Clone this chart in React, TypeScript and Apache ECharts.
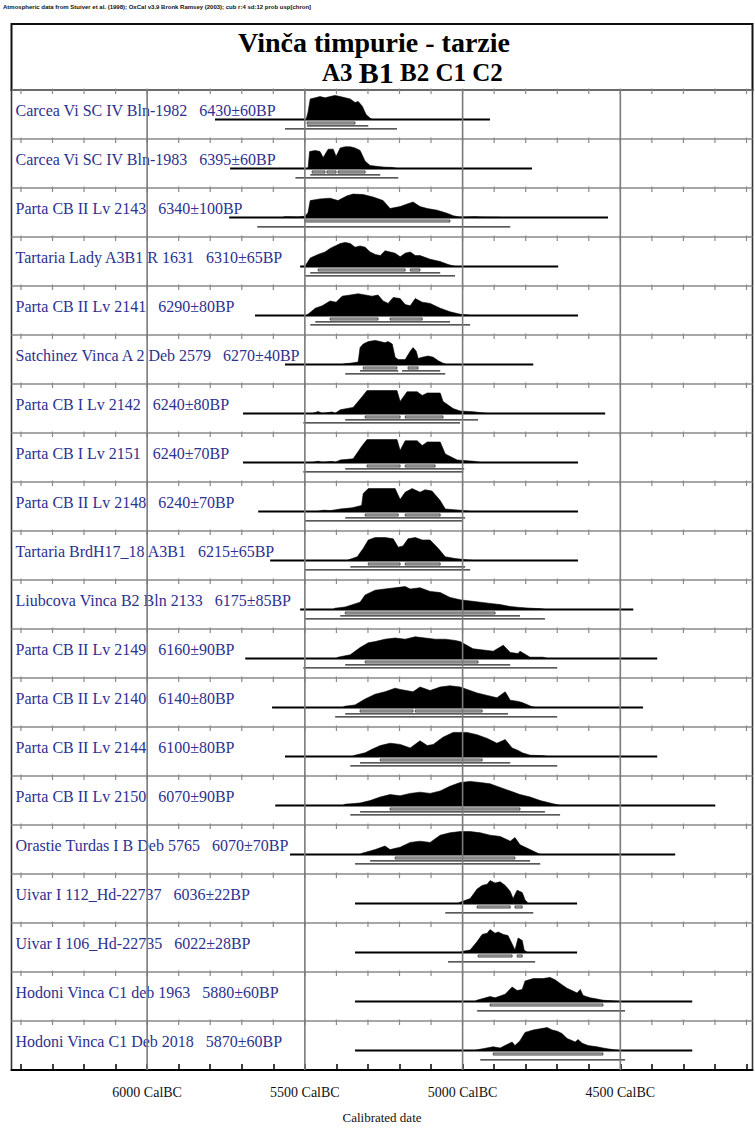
import React, { useEffect, useRef } from "react";
import * as echarts from "echarts";

// x axis in calendar years BC (left = older)
const axisLeftBC = 6430;
const axisRightBC = 4081;
const majorTicks = [6000, 5500, 5000, 4500];
const minorTicks = [6400, 6300, 6200, 6100, 6000, 5900, 5800, 5700, 5600, 5500, 5400, 5300,
  5200, 5100, 5000, 4900, 4800, 4700, 4600, 4500, 4400, 4300, 4200, 4100];

const headerText = "Atmospheric data from Stuiver et al. (1998); OxCal v3.9 Bronk Ramsey (2003); cub r:4 sd:12 prob usp[chron]";
const titleText = "Vinča timpurie - tarzie";
const phaseLeft = "A3";
const phaseMain = "B1";
const phaseRight = " B2 C1 C2";

const sampleNames = [
  "Carcea Vi SC IV Bln-1982",
  "Carcea Vi SC IV Bln-1983",
  "Parta CB II Lv 2143",
  "Tartaria Lady A3B1 R 1631",
  "Parta CB II Lv 2141",
  "Satchinez Vinca A 2 Deb 2579",
  "Parta CB I Lv 2142",
  "Parta CB I Lv 2151",
  "Parta CB II Lv 2148",
  "Tartaria BrdH17_18 A3B1",
  "Liubcova Vinca B2 Bln 2133",
  "Parta CB II Lv 2149",
  "Parta CB II Lv 2140",
  "Parta CB II Lv 2144",
  "Parta CB II Lv 2150",
  "Orastie Turdas I B Deb 5765",
  "Uivar I 112_Hd-22737",
  "Uivar I 106_Hd-22735",
  "Hodoni Vinca C1 deb 1963",
  "Hodoni Vinca C1 Deb 2018",
];
const bpDates = [
  "6430±60BP", "6395±60BP", "6340±100BP", "6310±65BP", "6290±80BP",
  "6270±40BP", "6240±80BP", "6240±70BP", "6240±70BP", "6215±65BP",
  "6175±85BP", "6160±90BP", "6140±80BP", "6100±80BP", "6070±90BP",
  "6070±70BP", "6036±22BP", "6022±28BP", "5880±60BP", "5870±60BP",
];

// full plotted range of each likelihood (BC)
const baseRanges: [number, number][] = [
  [5785, 4913], [5737, 4780], [5740, 4539], [5515, 4697], [5658, 4634],
  [5563, 4776], [5696, 4548], [5696, 4634], [5648, 4634], [5610, 4634],
  [5515, 4459], [5689, 4383], [5604, 4428], [5563, 4383], [5594, 4199],
  [5547, 4326], [5341, 4637], [5341, 4637], [5341, 4272], [5341, 4272],
];

// 68.2% ranges (BC)
const range68: [number, number][][] = [
  [[5493, 5341]],
  [[5477, 5436], [5430, 5401], [5395, 5309]],
  [[5499, 5040]],
  [[5458, 5182], [5166, 5135]],
  [[5420, 5268], [5230, 5128]],
  [[5315, 5208], [5173, 5141]],
  [[5309, 5198], [5182, 5062]],
  [[5303, 5198], [5182, 5087]],
  [[5309, 5204], [5182, 5071]],
  [[5299, 5198], [5182, 5071]],
  [[5372, 4897]],
  [[5309, 4951]],
  [[5325, 5157], [5150, 4938]],
  [[5261, 4938]],
  [[5230, 4818]],
  [[5214, 4834]],
  [[4954, 4849], [4834, 4811]],
  [[4951, 4843], [4827, 4811]],
  [[4913, 4555]],
  [[4903, 4555]],
];

// 95.4% ranges (BC)
const range95: [number, number][][] = [
  [[5493, 5299]],
  [[5483, 5261]],
  [],
  [[5483, 5071]],
  [[5467, 5040]],
  [[5325, 5204], [5192, 5071]],
  [[5372, 4951]],
  [[5372, 4995]],
  [[5372, 4992]],
  [[5356, 4992]],
  [[5388, 4818]],
  [[5372, 4849]],
  [[5372, 4856]],
  [[5325, 4849]],
  [[5325, 4739]],
  [[5293, 4786]],
  [],
  [],
  [],
  [],
];

// 99.7% ranges (BC)
const range99: [number, number][][] = [
  [[5563, 5208]],
  [[5530, 5204]],
  [[5651, 4849]],
  [[5499, 5024]],
  [[5483, 4976]],
  [[5372, 5055]],
  [[5505, 5008]],
  [[5505, 4998]],
  [[5499, 5001]],
  [[5499, 4976]],
  [[5499, 4739]],
  [[5505, 4700]],
  [[5404, 4700]],
  [[5356, 4700]],
  [[5356, 4691]],
  [[5341, 4754]],
  [[5055, 4776]],
  [[5046, 4770]],
  [[4954, 4485]],
  [[4944, 4485]],
];

// probability density, [year BC, relative height]
const densities: [number, number][][] = [
  [[5496, 0], [5490, .3], [5483, .85], [5467, .9], [5452, .95], [5436, .9], [5420, .95], [5404, 1], [5388, .95], [5372, .9], [5356, .85], [5341, .7], [5331, .75], [5318, .55], [5306, .2], [5293, .05], [5287, 0]],
  [[5490, 0], [5485, .7], [5467, .75], [5452, .7], [5442, .45], [5426, .8], [5410, .8], [5401, .5], [5388, .85], [5372, .9], [5356, .9], [5341, .85], [5325, .75], [5309, .3], [5293, .12], [5268, .08], [5246, .05], [5223, .04], [5208, 0]],
  [[5570, 0], [5563, .03], [5520, .02], [5499, .05], [5490, .2], [5483, .7], [5452, .77], [5420, .8], [5395, .7], [5366, .9], [5347, .97], [5315, .95], [5284, .85], [5252, .7], [5230, .37], [5198, .45], [5173, .57], [5157, .64], [5135, .45], [5112, .37], [5081, .3], [5049, .17], [5030, .07], [5008, .01], [4960, .03], [4935, .01], [4881, 0]],
  [[5505, 0], [5499, .02], [5483, .35], [5458, .5], [5436, .6], [5420, .75], [5404, .85], [5388, .95], [5372, 1], [5356, .95], [5341, .8], [5325, .85], [5309, .8], [5293, .6], [5277, .5], [5261, .45], [5246, .65], [5230, .6], [5214, .55], [5198, .4], [5182, .55], [5166, .6], [5150, .45], [5135, .45], [5103, .3], [5071, .2], [5046, .08], [5024, 0]],
  [[5495, 0], [5490, .05], [5467, .3], [5445, .4], [5420, .6], [5401, .55], [5382, .8], [5356, .85], [5331, .9], [5309, .85], [5287, .8], [5268, .85], [5252, .6], [5236, .5], [5220, .75], [5198, .7], [5182, .45], [5166, .4], [5150, .7], [5128, .55], [5103, .5], [5071, .3], [5040, .15], [5008, .05], [4976, 0]],
  [[5380, 0], [5372, .03], [5356, .05], [5331, .1], [5325, .7], [5315, .85], [5299, .95], [5277, 1], [5261, .95], [5246, .9], [5236, .95], [5223, .85], [5214, .3], [5204, .2], [5182, .2], [5166, .55], [5157, .7], [5147, .55], [5141, .25], [5128, .3], [5109, .35], [5093, .3], [5077, .15], [5062, .05], [5052, 0]],
  [[5475, 0], [5458, .08], [5445, 0], [5414, .06], [5404, 0], [5388, .15], [5347, .25], [5318, .7], [5303, .95], [5208, .95], [5198, .5], [5176, .9], [5144, .9], [5128, .75], [5112, .85], [5071, .85], [5062, .5], [5030, .2], [5008, .1], [4967, .07], [4922, 0]],
  [[5475, 0], [5458, .05], [5445, 0], [5414, .04], [5404, 0], [5388, .1], [5347, .15], [5318, .7], [5303, .95], [5208, .95], [5198, .5], [5182, .9], [5144, .9], [5128, .7], [5112, .85], [5071, .85], [5055, .35], [5017, .1], [4967, .05], [4944, 0]],
  [[5460, 0], [5440, .05], [5420, .03], [5388, .1], [5350, .15], [5320, .25], [5315, .75], [5299, .95], [5214, .95], [5198, .5], [5182, .8], [5160, .95], [5135, .8], [5119, .9], [5097, .85], [5071, .45], [5055, .1], [5008, .05], [4976, 0]],
  [[5365, 0], [5356, .05], [5334, .15], [5315, .5], [5299, .85], [5277, .95], [5246, .95], [5220, .9], [5204, .55], [5189, .6], [5173, .9], [5150, .95], [5128, .85], [5103, .85], [5077, .5], [5055, .15], [5024, .08], [4992, .03], [4970, 0]],
  [[5410, 0], [5404, .05], [5372, .1], [5325, .3], [5309, .6], [5277, .8], [5246, .85], [5214, .9], [5182, .95], [5166, .85], [5135, .9], [5103, .75], [5071, .7], [5040, .5], [5008, .4], [4976, .35], [4944, .3], [4913, .25], [4881, .2], [4849, .12], [4818, .08], [4786, .05], [4754, .03], [4739, 0]],
  [[5400, 0], [5395, .05], [5356, .15], [5325, .45], [5299, .65], [5277, .7], [5246, .8], [5214, .85], [5182, .8], [5150, .9], [5119, .85], [5087, .8], [5055, .8], [5024, .75], [5008, .7], [4967, .4], [4935, .35], [4903, .3], [4871, .55], [4849, .25], [4824, .2], [4818, .3], [4786, .05], [4745, .05], [4732, 0]],
  [[5380, 0], [5372, .05], [5341, .1], [5309, .35], [5277, .55], [5246, .65], [5214, .8], [5198, .75], [5157, .65], [5135, .85], [5103, .7], [5071, .85], [5040, .9], [5008, .85], [4986, .75], [4954, .6], [4922, .5], [4891, .4], [4865, .65], [4849, .3], [4824, .25], [4811, .2], [4780, .03], [4770, 0]],
  [[5350, 0], [5341, .05], [5309, .15], [5287, .3], [5261, .45], [5230, .55], [5198, .5], [5166, .35], [5135, .65], [5112, .45], [5093, .5], [5062, .8], [5030, 1], [4986, 1], [4954, .9], [4922, .75], [4891, .55], [4865, .7], [4843, .35], [4824, .25], [4811, .15], [4786, .05], [4745, .03], [4732, 0]],
  [[5380, 0], [5372, .05], [5325, .1], [5293, .2], [5261, .35], [5230, .45], [5198, .4], [5166, .5], [5135, .55], [5103, .5], [5071, .6], [5040, .8], [5008, .95], [4976, 1], [4944, .95], [4913, .9], [4881, .75], [4849, .6], [4818, .45], [4786, .35], [4754, .2], [4723, .1], [4691, 0]],
  [[5325, 0], [5318, .05], [5277, .2], [5246, .35], [5230, .2], [5198, .3], [5166, .5], [5135, .55], [5103, .5], [5071, .8], [5040, .9], [5008, .95], [4976, .95], [4944, .9], [4913, .8], [4881, .75], [4849, .55], [4834, .7], [4818, .4], [4786, .2], [4754, 0]],
  [[5014, 0], [5008, .05], [4976, .2], [4954, .6], [4938, .75], [4922, .8], [4913, .95], [4897, .85], [4881, .9], [4865, .75], [4849, .5], [4840, .2], [4827, .55], [4811, .45], [4802, .15], [4792, 0]],
  [[5008, 0], [4998, .05], [4976, .1], [4954, .45], [4938, .75], [4922, .8], [4913, .95], [4897, .8], [4887, .85], [4871, .75], [4856, .7], [4843, .35], [4834, .1], [4824, .6], [4811, .5], [4805, .1], [4795, 0]],
  [[4960, 0], [4955, .05], [4913, .2], [4897, .15], [4865, .3], [4843, .6], [4827, .45], [4811, .5], [4802, .85], [4776, .95], [4745, .95], [4723, 1], [4707, .9], [4691, .75], [4669, .55], [4653, .45], [4637, .35], [4627, .5], [4618, .25], [4596, .15], [4574, .1], [4555, .05], [4523, .02], [4507, 0]],
  [[4960, 0], [4944, .05], [4903, .15], [4881, .1], [4843, .35], [4834, .2], [4818, .4], [4802, .75], [4776, .85], [4732, .95], [4716, .85], [4700, .8], [4685, .7], [4669, .5], [4643, .35], [4634, .45], [4621, .3], [4602, .2], [4574, .15], [4555, .1], [4532, .05], [4507, 0]],
];

const BASE_OFF = 0.6; // baseline position inside a row (row units)
const PEAK = 0.49; // height of a density peak (row units)
const SERIF = "Liberation Serif";
const LABEL_FONT = '16px "Liberation Serif", serif';
const LABEL_COLOR = "#2d3190";

export default function App() {
  const ref = useRef<HTMLDivElement>(null);

  useEffect(() => {
    if (!ref.current) return;
    const chart = echarts.init(ref.current, undefined, { renderer: "svg" });

    const renderRow = (params: any, api: any) => {
      const i = params.dataIndex;
      const yb = i + BASE_OFF;
      const children: any[] = [];

      // separator ticks (every 100 years)
      minorTicks.forEach((t) => {
        const p = api.coord([t, i]);
        children.push({
          type: "line",
          shape: { x1: p[0], y1: p[1] - 1.5, x2: p[0], y2: p[1] + 4 },
          style: { stroke: "#8a8a8a", lineWidth: 1.2 },
        });
      });

      // density polygon
      const d = densities[i];
      const pts: number[][] = [api.coord([d[0][0], yb])];
      d.forEach(([yr, h]) => pts.push(api.coord([yr, yb - h * PEAK])));
      pts.push(api.coord([d[d.length - 1][0], yb]));
      children.push({
        type: "polygon",
        shape: { points: pts },
        style: { fill: "#000", stroke: "#000", lineWidth: 0.6 },
      });

      // base line
      const b0 = api.coord([baseRanges[i][0], yb]);
      const b1 = api.coord([baseRanges[i][1], yb]);
      children.push({
        type: "line",
        shape: { x1: b0[0], y1: b0[1], x2: b1[0], y2: b1[1] },
        style: { stroke: "#000", lineWidth: 2 },
      });

      // 68% brackets (grey bars)
      range68[i].forEach(([a, b]) => {
        const p0 = api.coord([a, yb]);
        const p1 = api.coord([b, yb]);
        children.push({
          type: "rect",
          shape: { x: p0[0], y: p0[1] + 2.5, width: p1[0] - p0[0], height: 2.2 },
          style: { fill: "#b0b0b0", stroke: "#222", lineWidth: 0.7 },
        });
      });
      // 95% lines
      range95[i].forEach(([a, b]) => {
        const p0 = api.coord([a, yb]);
        const p1 = api.coord([b, yb]);
        children.push({
          type: "line",
          shape: { x1: p0[0], y1: p0[1] + 6.5, x2: p1[0], y2: p1[1] + 6.5 },
          style: { stroke: "#222", lineWidth: 1.3 },
        });
      });
      // 99.7% lines
      range99[i].forEach(([a, b]) => {
        const p0 = api.coord([a, yb]);
        const p1 = api.coord([b, yb]);
        children.push({
          type: "line",
          shape: { x1: p0[0], y1: p0[1] + 9.5, x2: p1[0], y2: p1[1] + 9.5 },
          style: { stroke: "#222", lineWidth: 1.3 },
        });
      });

      // label
      const lp = api.coord([axisLeftBC, i + 0.41]);
      children.push({
        type: "text",
        x: lp[0] + 4,
        y: lp[1],
        style: {
          text: sampleNames[i] + "   " + bpDates[i],
          font: LABEL_FONT,
          fill: LABEL_COLOR,
          textAlign: "left",
          textVerticalAlign: "middle",
          align: "left",
          verticalAlign: "middle",
        },
      });

      return { type: "group", children };
    };

    const renderGrid = (params: any, api: any) => {
      const v = majorTicks[params.dataIndex];
      const p0 = api.coord([v, 0]);
      const p1 = api.coord([v, sampleNames.length]);
      return {
        type: "line",
        shape: { x1: p0[0], y1: p0[1], x2: p1[0], y2: p1[1] },
        style: { stroke: "#7a7a7a", lineWidth: 1.6 },
      };
    };

    chart.setOption({
      animation: false,
      backgroundColor: "#fff",
      grid: {
        left: 11.5,
        right: 2.5,
        top: 90,
        bottom: 61,
        show: true,
        borderColor: "#333",
        borderWidth: 1.6,
      },
      xAxis: {
        type: "value",
        inverse: true,
        min: axisRightBC,
        max: axisLeftBC,
        axisLine: { show: true, onZero: false, lineStyle: { color: "#000", width: 2 } },
        axisTick: {
          show: true,
          inside: true,
          length: 6,
          customValues: minorTicks,
          lineStyle: { color: "#000", width: 1.5 },
        },
        axisLabel: {
          customValues: majorTicks,
          formatter: (v: number) => `${v} CalBC`,
          fontFamily: SERIF,
          fontSize: 14,
          color: "#111",
          margin: 15,
        },
        splitLine: { show: false },
        name: "Calibrated date",
        nameLocation: "middle",
        nameGap: 41,
        nameTextStyle: { fontFamily: SERIF, fontSize: 13, color: "#111" },
      },
      yAxis: {
        type: "value",
        inverse: true,
        min: 0,
        max: sampleNames.length,
        interval: 1,
        axisLine: { show: false },
        axisTick: { show: false },
        axisLabel: { show: false },
        splitLine: { show: true, lineStyle: { color: "#8a8a8a", width: 1.5 } },
      },
      graphic: [
        {
          type: "text",
          left: 3,
          top: 4,
          style: {
            text: headerText,
            font: 'bold 6px "Liberation Sans", sans-serif',
            fill: "#111",
          },
        },
        {
          type: "rect",
          shape: { x: 11.5, y: 24, width: 741, height: 66 },
          style: { fill: "none", stroke: "#111", lineWidth: 2 },
        },
        {
          type: "text",
          x: 374,
          y: 42,
          style: {
            text: titleText,
            font: 'bold 28px "Liberation Serif", serif',
            fill: "#000",
            textAlign: "center",
            textVerticalAlign: "middle",
            lineHeight: 26,
          },
        },
        {
          type: "text",
          x: 322,
          y: 72,
          style: {
            text: `{a|${phaseLeft} }{b|${phaseMain}}{a|${phaseRight}}`,
            textAlign: "left",
            textVerticalAlign: "middle",
            rich: {
              a: { fontFamily: SERIF, fontWeight: "bold", fontSize: 25, color: "#000", lineHeight: 24 },
              b: { fontFamily: SERIF, fontWeight: "bold", fontSize: 30, color: "#000", lineHeight: 24 },
            },
          },
        },
      ],
      series: [
        {
          type: "custom",
          renderItem: renderRow,
          data: sampleNames.map((_, i) => [baseRanges[i][0], i]),
          encode: { x: 0, y: 1 },
          clip: false,
          z: 2,
        },
        {
          type: "custom",
          renderItem: renderGrid,
          data: majorTicks.map((v) => [v, 0]),
          encode: { x: 0, y: 1 },
          z: 3,
        },
      ],
    });

    return () => chart.dispose();
  }, []);

  return (
    <div
      ref={ref}
      style={{ position: "absolute", left: 0, top: 0, width: 755, height: 1131, background: "#fff" }}
    />
  );
}
